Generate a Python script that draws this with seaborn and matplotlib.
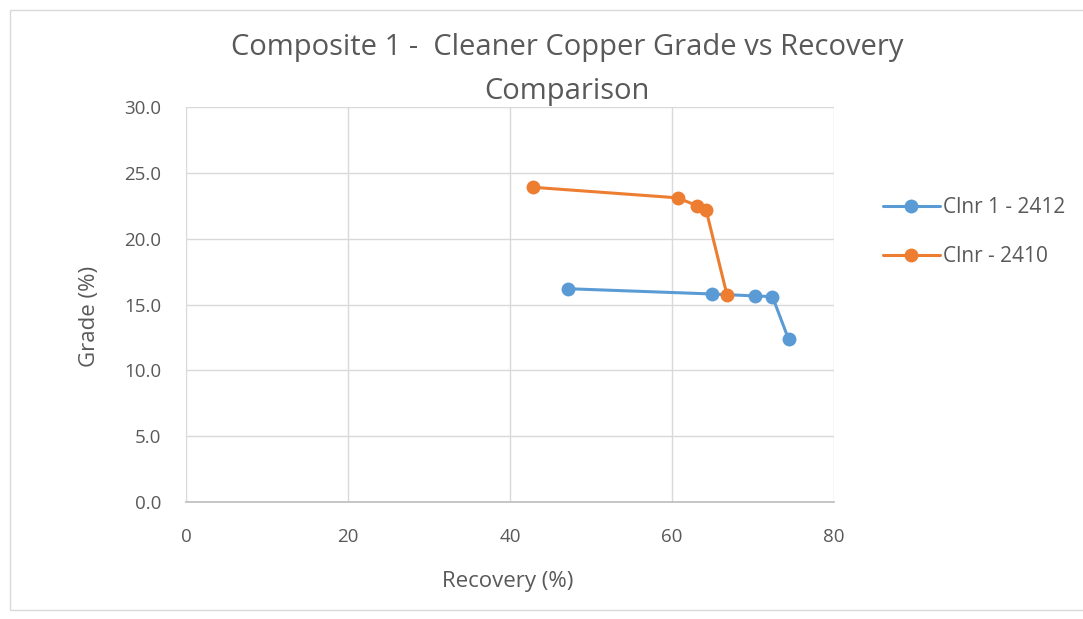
import matplotlib
matplotlib.use("Agg")
import matplotlib.pyplot as plt
import seaborn as sns
import pandas as pd
from matplotlib.patches import Rectangle
from matplotlib.ticker import FormatStrFormatter

series_names = ["Clnr 1 - 2412", "Clnr - 2410"]
rec_2412 = [47.1, 64.9, 70.3, 72.4, 74.4]
grade_2412 = [16.2, 15.8, 15.65, 15.6, 12.35]
rec_2410 = [42.9, 60.7, 63.1, 64.2, 66.8]
grade_2410 = [23.9, 23.1, 22.5, 22.2, 15.7]
x_ticks = [0, 20, 40, 60, 80]
y_ticks = [0, 5, 10, 15, 20, 25, 30]

df = pd.DataFrame({
    "Recovery": rec_2412 + rec_2410,
    "Grade": grade_2412 + grade_2410,
    "Series": [series_names[0]] * len(rec_2412) + [series_names[1]] * len(rec_2410),
})

sns.set_theme(style="white")
plt.rcParams['font.family'] = ['Open Sans', 'DejaVu Sans']

fig = plt.figure(figsize=(10.83, 6.19), dpi=100)
fig.patch.set_facecolor("white")
fig.add_artist(Rectangle((10/1083, 9/619), 1.05, 600/619, transform=fig.transFigure,
                         fill=False, edgecolor="#d9d9d9", linewidth=1.0))
ax = fig.add_axes([186/1083, 1-502/619, (834-186)/1083, (502-107)/619])

palette = {series_names[0]: "#5B9BD5", series_names[1]: "#ED7D31"}
sns.lineplot(data=df, x="Recovery", y="Grade", hue="Series", palette=palette,
             hue_order=series_names, sort=False, estimator=None,
             marker="o", markersize=10, markeredgewidth=0, linewidth=2.2, ax=ax)

ax.set_xlim(0, 80)
ax.set_ylim(0, 30)
ax.set_xticks(x_ticks)
ax.set_yticks(y_ticks)
ax.yaxis.set_major_formatter(FormatStrFormatter("%.1f"))
ax.grid(True, color="#d9d9d9", linewidth=1.0)
ax.set_axisbelow(True)
for s in ["top", "right", "left"]:
    ax.spines[s].set_visible(False)
ax.spines["bottom"].set_color("#bfbfbf")
ax.tick_params(axis="both", colors="#595959", labelsize=13.5, length=0)
ax.tick_params(axis="x", pad=19)
ax.tick_params(axis="y", pad=18)
ax.set_xlabel("Recovery (%)", fontsize=16, color="#595959", va="center")
ax.set_ylabel("Grade (%)", fontsize=16, color="#595959", va="center")
ax.xaxis.set_label_coords((508-186)/648, (502-582)/395)
ax.yaxis.set_label_coords((90-186)/648, (502-316)/395)

fig.text(567/1083, 1-47/619, "Composite 1 -  Cleaner Copper Grade vs Recovery",
         ha="center", va="center", fontsize=21, color="#595959")
fig.text(567/1083, 1-92/619, "Comparison",
         ha="center", va="center", fontsize=21, color="#595959")

handles, labels = ax.get_legend_handles_labels()
ax.legend(handles, labels, loc="center left", bbox_to_anchor=(864/1083, 1-232/619),
          bbox_transform=fig.transFigure, frameon=False, fontsize=15,
          labelcolor="#595959", handlelength=2.75, handletextpad=0.15, labelspacing=1.35)

fig.savefig("out.png", dpi=100)
